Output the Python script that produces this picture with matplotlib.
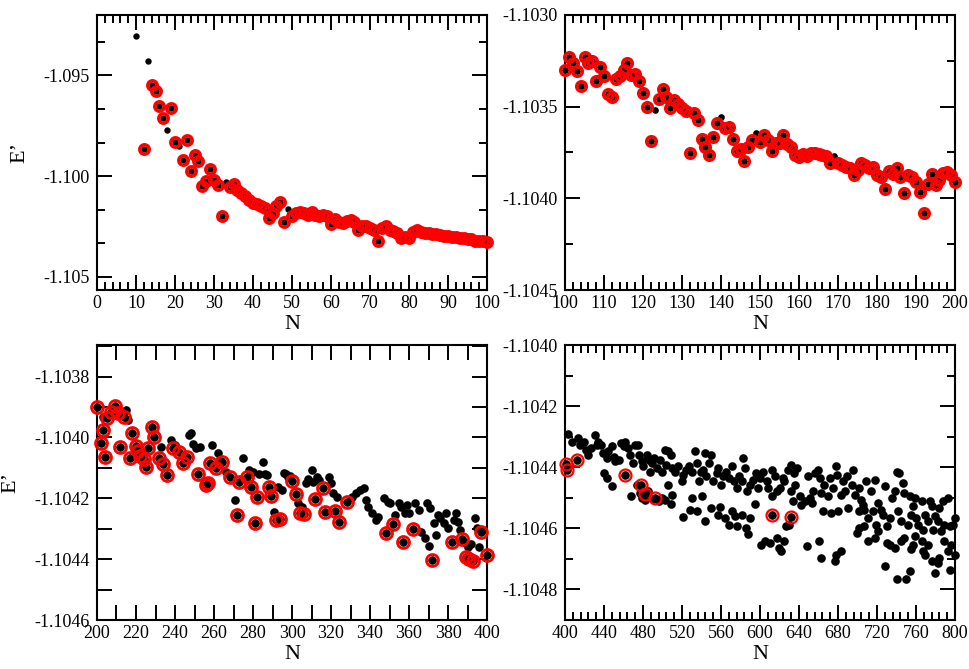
import numpy as np
import matplotlib
matplotlib.use('Agg')
import matplotlib.pyplot as plt
from matplotlib.ticker import MultipleLocator, AutoMinorLocator, FormatStrFormatter

plt.rcParams['font.family'] = ['Liberation Serif', 'DejaVu Serif']
plt.rcParams['axes.unicode_minus'] = False

# ---- panel 1: N = 10..100 ----
N1 = [10, 12, 13, 14, 15, 16, 17, 18, 19, 20,
      21, 22, 23, 24, 25, 26, 27, 28, 29, 30,
      31, 32, 33, 34, 35, 36, 37, 38, 39, 40,
      41, 42, 43, 44, 45, 46, 47, 48, 49, 50,
      51, 52, 53, 54, 55, 56, 57, 58, 59, 60,
      61, 62, 63, 64, 65, 66, 67, 68, 69, 70,
      71, 72, 73, 74, 75, 76, 77, 78, 79, 80,
      81, 82, 83, 84, 85, 86, 87, 88, 89, 90,
      91, 92, 93, 94, 95, 96, 97, 98, 99, 100]
E1 = [-1.093043, -1.098632, -1.094303, -1.095498, -1.095763, -1.096493, -1.097090, -1.097720, -1.096609, -1.098300,
      -1.098516, -1.099179, -1.098217, -1.099760, -1.098947, -1.099245, -1.100473, -1.100224, -1.099627, -1.100174,
      -1.100423, -1.101965, -1.100274, -1.100539, -1.100373, -1.100672, -1.100838, -1.101003, -1.101169, -1.101335,
      -1.101401, -1.101468, -1.101584, -1.102065, -1.101833, -1.101501, -1.101302, -1.102297, -1.101634, -1.101998,
      -1.101833, -1.101766, -1.101833, -1.101916, -1.101800, -1.101916, -1.101998, -1.101916, -1.101965, -1.102363,
      -1.102131, -1.102297, -1.102330, -1.102247, -1.102197, -1.102297, -1.102662, -1.102496, -1.102463, -1.102579,
      -1.102662, -1.103193, -1.102596, -1.102496, -1.102662, -1.102745, -1.102828, -1.103093, -1.103027, -1.103093,
      -1.102761, -1.102695, -1.102794, -1.102828, -1.102828, -1.102877, -1.102894, -1.102927, -1.102960, -1.102977,
      -1.103027, -1.103043, -1.103060, -1.103093, -1.103126, -1.103143, -1.103193, -1.103209, -1.103226, -1.103259]
black_only1 = [10, 13, 18, 21, 33, 49]

# ---- panel 2: N = 100..200 ----
N2 = list(range(100, 201))
E2 = [-1.103300, -1.103231, -1.103260, -1.103305, -1.103387, -1.103231, -1.103260, -1.103249, -1.103358, -1.103282,
      -1.103333, -1.103431, -1.103449, -1.103351, -1.103333, -1.103300, -1.103260, -1.103327, -1.103322, -1.103358,
      -1.103424, -1.103500, -1.103685, -1.103518, -1.103456, -1.103405, -1.103445, -1.103509, -1.103464, -1.103485,
      -1.103509, -1.103522, -1.103751, -1.103536, -1.103573, -1.103678, -1.103718, -1.103764, -1.103664, -1.103591,
      -1.103554, -1.103618, -1.103613, -1.103678, -1.103740, -1.103733, -1.103798, -1.103718, -1.103682, -1.103642,
      -1.103691, -1.103654, -1.103682, -1.103740, -1.103700, -1.103696, -1.103654, -1.103704, -1.103718, -1.103764,
      -1.103773, -1.103758, -1.103769, -1.103755, -1.103755, -1.103758, -1.103764, -1.103769, -1.103809, -1.103769,
      -1.103805, -1.103818, -1.103827, -1.103836, -1.103873, -1.103845, -1.103805, -1.103818, -1.103836, -1.103827,
      -1.103873, -1.103882, -1.103951, -1.103849, -1.103867, -1.103836, -1.103882, -1.103969, -1.103873, -1.103885,
      -1.103909, -1.103964, -1.104078, -1.103922, -1.103867, -1.103927, -1.103900, -1.103864, -1.103855, -1.103873,
      -1.103909]
black_only2 = [123, 140, 149, 169]

# ---- panel 3: N = 200..400 ----
N3_red = [200, 202, 203, 204, 205, 207, 209, 211, 212, 214,
          217, 218, 220, 221, 222, 224, 225, 226, 228, 229,
          232, 234, 236, 239, 242, 244, 246, 252, 256, 257,
          258, 261, 264, 268, 272, 273, 277, 279, 282, 281,
          288, 289, 292, 294, 300, 302, 304, 306, 312, 316,
          317, 322, 324, 328, 348, 352, 357, 362, 372, 382,
          387, 389, 391, 393, 397, 400]
E3_red = [-1.103901, -1.104017, -1.103975, -1.104063, -1.103937, -1.103915, -1.103896, -1.103921, -1.104032, -1.103934,
          -1.104068, -1.103986, -1.104028, -1.104043, -1.104061, -1.104072, -1.104096, -1.104036, -1.103964, -1.103997,
          -1.104068, -1.104087, -1.104123, -1.104036, -1.104047, -1.104083, -1.104063, -1.104120, -1.104156, -1.104151,
          -1.104083, -1.104101, -1.104079, -1.104129, -1.104255, -1.104145, -1.104131, -1.104162, -1.104197, -1.104280,
          -1.104162, -1.104192, -1.104271, -1.104268, -1.104142, -1.104186, -1.104247, -1.104253, -1.104202, -1.104167,
          -1.104244, -1.104241, -1.104277, -1.104211, -1.104315, -1.104284, -1.104342, -1.104302, -1.104403, -1.104342,
          -1.104335, -1.104394, -1.104401, -1.104405, -1.104311, -1.104386]
N3_black = [203, 215, 216, 233, 238, 240, 247, 248, 249, 251,
            253, 259, 262, 263, 266, 271, 275, 278, 280, 283,
            285, 286, 287, 291, 293, 295, 296, 297, 298, 299,
            303, 305, 307, 308, 310, 311, 313, 314, 319, 320,
            321, 323, 331, 333, 335, 337, 338, 339, 341, 343,
            344, 347, 349, 350, 353, 355, 356, 358, 359, 360,
            363, 365, 366, 368, 369, 370, 371, 373, 374, 375,
            376, 378, 379, 380, 383, 384, 385, 386, 388, 390,
            392, 394, 395, 396, 398]
E3_black = [-1.103932, -1.103910, -1.103942, -1.104030, -1.104008, -1.104025, -1.103992, -1.103986, -1.104021, -1.104036,
            -1.104032, -1.104025, -1.104052, -1.104072, -1.104112, -1.104205, -1.104068, -1.104107, -1.104112, -1.104120,
            -1.104079, -1.104120, -1.104123, -1.104244, -1.104162, -1.104173, -1.104118, -1.104120, -1.104129, -1.104127,
            -1.104216, -1.104227, -1.104148, -1.104138, -1.104107, -1.104145, -1.104129, -1.104140, -1.104129, -1.104151,
            -1.104184, -1.104195, -1.104195, -1.104181, -1.104173, -1.104167, -1.104205, -1.104227, -1.104249, -1.104271,
            -1.104260, -1.104200, -1.104211, -1.104216, -1.104255, -1.104214, -1.104227, -1.104249, -1.104222, -1.104249,
            -1.104214, -1.104238, -1.104310, -1.104332, -1.104214, -1.104357, -1.104233, -1.104282, -1.104321, -1.104255,
            -1.104266, -1.104282, -1.104249, -1.104299, -1.104271, -1.104247, -1.104277, -1.104304, -1.104342, -1.104359,
            -1.104350, -1.104266, -1.104299, -1.104359, -1.104304]

# ---- panel 4: N = 400..800 ----
N4_red = [401, 402, 412, 462, 478, 482, 492, 612, 632]
E4_red = [-1.104389, -1.104410, -1.104375, -1.104427, -1.104459, -1.104486, -1.104501, -1.104557, -1.104563]
N4_black = [403, 407, 413, 415, 419, 421, 424, 427, 431, 433,
            434, 437, 439, 443, 444, 448, 450, 451, 455, 457,
            460, 462, 465, 467, 470, 472, 475, 476, 479, 480,
            484, 486, 487, 489, 491, 494, 497, 499, 503, 504,
            506, 509, 510, 513, 516, 520, 521, 524, 527, 530,
            533, 535, 537, 539, 541, 544, 545, 548, 550, 552,
            556, 557, 560, 562, 565, 568, 571, 573, 576, 578,
            581, 583, 585, 587, 590, 593, 596, 598,
            440, 443, 448, 468, 474, 477, 479, 482, 485, 490,
            496, 499, 503, 506, 509, 510, 521, 528, 530, 535,
            540, 544, 550, 557, 559, 564, 568, 571, 574, 576,
            581, 586, 588, 590, 595,
            600, 603, 607, 608, 612, 612, 615, 617, 620, 624,
            625, 629, 632, 635, 636, 638, 632, 634, 641, 642,
            646, 649, 651, 653, 654, 656, 659, 661, 663, 665,
            666, 670, 672, 673, 675, 678, 679, 680, 683, 685,
            687, 689, 690, 694, 695, 697, 701, 702, 704, 706,
            707, 709, 711, 714, 716, 718, 719, 721, 724, 726,
            728, 730, 733, 735, 738, 740, 742, 743, 745, 747,
            748, 752, 754, 755, 757, 759, 760, 762, 766, 767,
            769, 772, 774, 776, 777, 779, 783, 784, 786, 788,
            789, 793, 795, 798, 800,
            601, 605, 610, 617, 619, 622, 625, 627, 630, 648,
            660, 663, 677, 678, 683, 699, 701, 707, 711, 718,
            721, 728, 730, 733, 738, 740, 745, 748, 750, 754,
            755, 757, 759, 766, 767, 769, 772, 776, 779, 783,
            784, 789, 793, 795, 796, 800]
E4_black = [-1.104292, -1.104316, -1.104303, -1.104327, -1.104316, -1.104343, -1.104359, -1.104337, -1.104294, -1.104327,
            -1.104316, -1.104327, -1.104354, -1.104370, -1.104348, -1.104332, -1.104365, -1.104381, -1.104375, -1.104321,
            -1.104332, -1.104316, -1.104337, -1.104359, -1.104386, -1.104327, -1.104327, -1.104359, -1.104381, -1.104397,
            -1.104359, -1.104375, -1.104414, -1.104386, -1.104370, -1.104403, -1.104375, -1.104414, -1.104343, -1.104392,
            -1.104348, -1.104359, -1.104403, -1.104414, -1.104397, -1.104446, -1.104424, -1.104408, -1.104397, -1.104414,
            -1.104348, -1.104386, -1.104446, -1.104414, -1.104408, -1.104354, -1.104430, -1.104386, -1.104359, -1.104446,
            -1.104419, -1.104403, -1.104457, -1.104430, -1.104414, -1.104435, -1.104397, -1.104446, -1.104468, -1.104430,
            -1.104446, -1.104370, -1.104403, -1.104479, -1.104457, -1.104441, -1.104419, -1.104468,
            -1.104419, -1.104435, -1.104463, -1.104495, -1.104457, -1.104484, -1.104501, -1.104506, -1.104479, -1.104503,
            -1.104512, -1.104501, -1.104506, -1.104457, -1.104520, -1.104490, -1.104564, -1.104539, -1.104501, -1.104542,
            -1.104495, -1.104577, -1.104535, -1.104555, -1.104531, -1.104566, -1.104588, -1.104544, -1.104561, -1.104593,
            -1.104555, -1.104599, -1.104620, -1.104566, -1.104520,
            -1.104435, -1.104414, -1.104446, -1.104468, -1.104408, -1.104495, -1.104430, -1.104479, -1.104468, -1.104435,
            -1.104446, -1.104408, -1.104392, -1.104419, -1.104457, -1.104403, -1.104479, -1.104512, -1.104495, -1.104522,
            -1.104512, -1.104430, -1.104501, -1.104517, -1.104479, -1.104419, -1.104408, -1.104435, -1.104484, -1.104544,
            -1.104457, -1.104495, -1.104435, -1.104550, -1.104468, -1.104397, -1.104424, -1.104544, -1.104490, -1.104446,
            -1.104479, -1.104430, -1.104533, -1.104457, -1.104408, -1.104490, -1.104468, -1.104544, -1.104506, -1.104522,
            -1.104539, -1.104446, -1.104566, -1.104479, -1.104544, -1.104441, -1.104588, -1.104517, -1.104539, -1.104555,
            -1.104463, -1.104593, -1.104566, -1.104501, -1.104479, -1.104414, -1.104544, -1.104419, -1.104577, -1.104452,
            -1.104484, -1.104588, -1.104495, -1.104555, -1.104528, -1.104501, -1.104566, -1.104588, -1.104512, -1.104604,
            -1.104555, -1.104577, -1.104512, -1.104528, -1.104604, -1.104561, -1.104577, -1.104533, -1.104610, -1.104512,
            -1.104588, -1.104501, -1.104593, -1.104588, -1.104566,
            -1.104653, -1.104642, -1.104648, -1.104631, -1.104664, -1.104675, -1.104642, -1.104593, -1.104588, -1.104658,
            -1.104642, -1.104697, -1.104707, -1.104686, -1.104675, -1.104615, -1.104599, -1.104593, -1.104642, -1.104631,
            -1.104610, -1.104724, -1.104648, -1.104653, -1.104664, -1.104767, -1.104642, -1.104631, -1.104767, -1.104740,
            -1.104669, -1.104653, -1.104626, -1.104642, -1.104675, -1.104686, -1.104653, -1.104707, -1.104746, -1.104713,
            -1.104697, -1.104642, -1.104675, -1.104735, -1.104653, -1.104686]


def style(ax, xlim, ylim, xmaj, xdiv, ymaj, ydiv, yfmt, minor_len):
    ax.set_xlim(*xlim)
    ax.set_ylim(*ylim)
    ax.xaxis.set_major_locator(MultipleLocator(xmaj))
    ax.xaxis.set_minor_locator(AutoMinorLocator(xdiv))
    ax.yaxis.set_major_locator(MultipleLocator(ymaj))
    ax.yaxis.set_minor_locator(AutoMinorLocator(ydiv))
    ax.xaxis.set_major_formatter(FormatStrFormatter('%d'))
    ax.yaxis.set_major_formatter(FormatStrFormatter(yfmt))
    ax.tick_params(which='both', direction='in', top=True, right=True,
                   width=1.4, labelsize=13)
    ax.tick_params(which='major', length=11)
    ax.tick_params(which='minor', length=minor_len)
    ax.tick_params(axis='y', pad=5)
    for s in ax.spines.values():
        s.set_linewidth(1.5)
    ax.set_xlabel('N', fontsize=16, labelpad=2)


def draw(ax, nb, eb, nr, er, bs, rs, rw):
    ax.plot(nb, eb, 'o', color='black', ms=bs, mew=0, ls='none',
            zorder=2, clip_on=False)
    ax.plot(nr, er, 'o', mfc='none', mec='red', ms=rs, mew=rw, ls='none',
            zorder=3, clip_on=False)


fig = plt.figure(figsize=(9.69, 6.69), dpi=100)
w, h = 0.4025, 0.4111
ax1 = fig.add_axes([0.1001, 0.5665, w, h])
ax2 = fig.add_axes([0.5831, 0.5665, w, h])
ax3 = fig.add_axes([0.1001, 0.0732, w, h])
ax4 = fig.add_axes([0.5831, 0.0732, w, h])

# panel 1
n1r = [n for n in N1 if n not in black_only1]
e1r = [e for n, e in zip(N1, E1) if n not in black_only1]
draw(ax1, N1, E1, n1r, e1r, 4.6, 6.8, 2.5)
style(ax1, (0, 100), (-1.10565, -1.0920), 10, 5, 0.005, 3, '%.3f', 6)
ax1.set_ylabel('E\u2019', fontsize=16, labelpad=10)

# panel 2
n2r = [n for n in N2 if n not in black_only2]
e2r = [e for n, e in zip(N2, E2) if n not in black_only2]
draw(ax2, N2, E2, n2r, e2r, 4.8, 7.0, 2.4)
style(ax2, (100, 200), (-1.1045, -1.1030), 10, 5, 0.0005, 2, '%.4f', 6)

# panel 3
draw(ax3, N3_black + N3_red, E3_black + E3_red, N3_red, E3_red, 6.2, 8.6, 2.0)
style(ax3, (200, 400), (-1.1046, -1.103696), 20, 2, 0.0002, 2, '%.4f', 11)
ax3.set_ylabel('E\u2019', fontsize=16, labelpad=10)

# panel 4
draw(ax4, N4_black + N4_red, E4_black + E4_red, N4_red, E4_red, 6.2, 8.6, 1.6)
style(ax4, (400, 800), (-1.10490, -1.1040), 40, 5, 0.0002, 2, '%.4f', 6)

fig.savefig('out.png', dpi=100)
